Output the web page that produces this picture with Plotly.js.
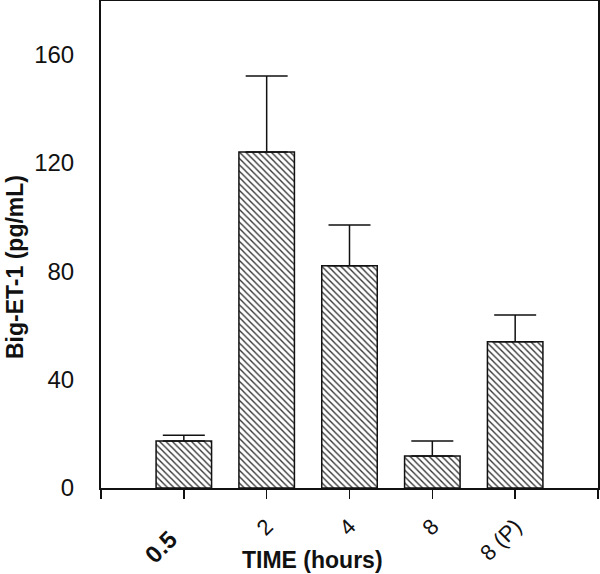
<!DOCTYPE html>
<html>
<head>
<meta charset="utf-8">
<script src="https://cdn.plot.ly/plotly-3.0.1.min.js"></script>
<style>html,body{margin:0;padding:0;background:#fff;}#chart{width:600px;height:574px;}</style>
</head>
<body>
<div id="chart"></div>
<script>
const categories = ['<b style="font-size:24px">0.5</b>\u00a0\u00a0\u00a0', '2', '4', '8', '8 (P)'];
const positions = [1, 2, 3, 4, 5];
const values = [17.3, 124, 82, 11.8, 54];
const errorsUp = [2.2, 28, 15, 5.5, 9.8];
const yTicks = [0, 40, 80, 120, 160];

const trace = {
  type: 'bar',
  x: positions,
  y: values,
  width: 0.67,
  marker: {
    color: '#ffffff',
    pattern: {shape: '\\', fgcolor: '#333', bgcolor: '#fff', size: 4.5, solidity: 0.3},
    line: {color: '#111', width: 1.5}
  },
  error_y: {type: 'data', symmetric: false, array: errorsUp, arrayminus: [0,0,0,0,0], color: '#111', thickness: 1.5, width: 21},
  hoverinfo: 'skip'
};

const layout = {
  width: 600, height: 574,
  margin: {l: 101, r: 2, t: 1, b: 86},
  paper_bgcolor: '#fff', plot_bgcolor: '#fff',
  showlegend: false,
  font: {family: 'Liberation Sans, Arial, sans-serif', color: '#111'},
  xaxis: {
    range: [0, 6],
    tickvals: [0].concat(positions, [6]),
    ticktext: [''].concat(categories, ['']),
    tickangle: -45,
    ticks: 'outside', ticklen: 9, tickwidth: 1.5, tickcolor: '#111',
    ticklabelstandoff: 6,
    tickfont: {size: 22, color: '#111'},
    showline: true, linewidth: 2, linecolor: '#111', mirror: true,
    showgrid: false, zeroline: false, fixedrange: true
  },
  yaxis: {
    range: [0, 179.7],
    tickvals: yTicks,
    ticks: '', ticklabelstandoff: 20,
    tickfont: {size: 24, color: '#111'},
    showline: true, linewidth: 2, linecolor: '#111', mirror: true,
    showgrid: false, zeroline: false, fixedrange: true
  },
  annotations: [
    {text: '<b>TIME (hours)</b>', xref: 'paper', yref: 'paper', x: (312-101)/497, y: -(560-488)/487, xanchor: 'center', yanchor: 'middle', showarrow: false, font: {size: 23, color: '#111'}},
    {text: '<b>Big-ET-1 (pg/mL)</b>', xref: 'paper', yref: 'paper', x: -(101-15)/497, y: (488-267)/487, xanchor: 'center', yanchor: 'middle', textangle: -90, showarrow: false, font: {size: 23, color: '#111'}}
  ]
};

Plotly.newPlot('chart', [trace], layout, {staticPlot: true, displayModeBar: false});
</script>
</body>
</html>
